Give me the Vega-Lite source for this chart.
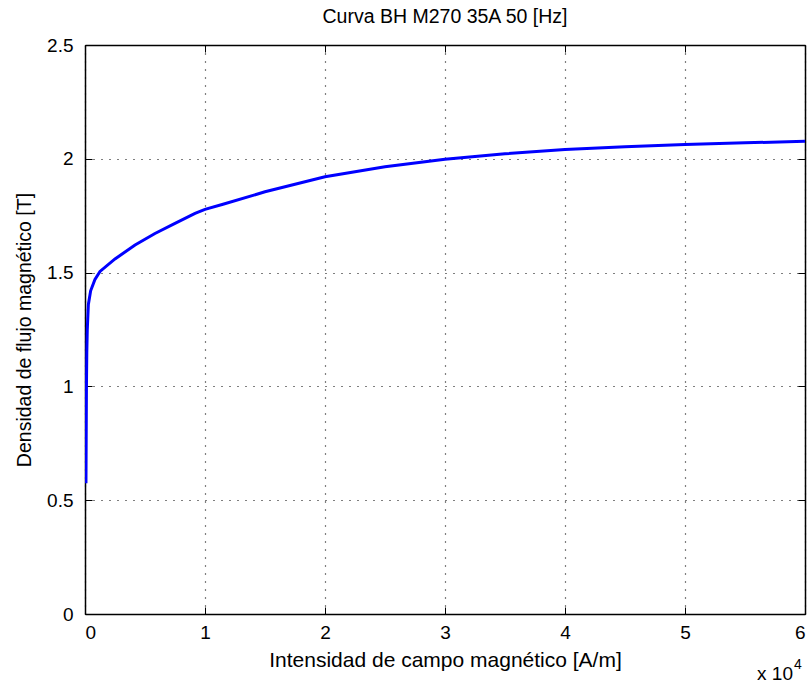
{
  "$schema": "https://vega.github.io/schema/vega-lite/v6.json",
  "autosize": "none",
  "width": 720,
  "height": 569,
  "padding": {"left": 85, "top": 45, "right": 5, "bottom": 70},
  "background": "white",
  "config": {
    "font": "Liberation Sans",
    "view": {"stroke": null},
    "axis": {"labelFont": "Liberation Sans", "titleFont": "Liberation Sans", "labelFontSize": 19, "titleFontSize": 21, "labelColor": "#000", "titleColor": "#000", "titleFontWeight": "normal", "domainColor": "#000", "tickColor": "#000", "domainWidth": 1.5, "tickWidth": 1}
  },
  "title": {"text": "Curva BH M270 35A 50 [Hz]", "fontSize": 19.5, "fontWeight": "normal", "font": "Liberation Sans", "color": "#000", "offset": 9},
  "resolve": {"axis": {"x": "independent", "y": "independent"}},
  "data": {"values": [
    {"H": 80, "B": 0.575},
    {"H": 120, "B": 1.0},
    {"H": 150, "B": 1.15},
    {"H": 190, "B": 1.25},
    {"H": 280, "B": 1.36},
    {"H": 470, "B": 1.42},
    {"H": 830, "B": 1.47},
    {"H": 1250, "B": 1.505},
    {"H": 2500, "B": 1.56},
    {"H": 4170, "B": 1.621},
    {"H": 5830, "B": 1.672},
    {"H": 7500, "B": 1.716},
    {"H": 9170, "B": 1.76},
    {"H": 10000, "B": 1.778},
    {"H": 11500, "B": 1.8},
    {"H": 15000, "B": 1.855},
    {"H": 20000, "B": 1.921},
    {"H": 25000, "B": 1.965},
    {"H": 30000, "B": 1.998},
    {"H": 35000, "B": 2.022},
    {"H": 40000, "B": 2.041},
    {"H": 45000, "B": 2.053},
    {"H": 50000, "B": 2.063},
    {"H": 55000, "B": 2.07},
    {"H": 60000, "B": 2.077}
  ]},
  "layer": [
    {
      "mark": {"type": "line", "color": "#0000ff", "strokeWidth": 3, "clip": true},
      "encoding": {
        "x": {"field": "H", "type": "quantitative", "scale": {"domain": [0, 60000], "nice": false, "zero": false},
          "axis": {"orient": "bottom", "values": [0, 10000, 20000, 30000, 40000, 50000, 60000], "labelExpr": "format(datum.value / 10000, 'd')", "title": "Intensidad de campo magnético [A/m]", "titlePadding": 7, "tickSize": -7, "labelPadding": 16, "grid": true, "gridDash": [1, 7], "gridColor": "#000", "gridWidth": 1.2}},
        "y": {"field": "B", "type": "quantitative", "scale": {"domain": [0, 2.5], "nice": false, "zero": false},
          "axis": {"orient": "left", "values": [0, 0.5, 1, 1.5, 2, 2.5], "format": ".2~f", "title": "Densidad de flujo magnético [T]", "titleFontSize": 19.5, "titlePadding": 12, "tickSize": -7, "labelPadding": 19, "grid": true, "gridDash": [1, 7], "gridColor": "#000", "gridWidth": 1.2}}
      }
    },
    {
      "mark": {"type": "point", "opacity": 0},
      "encoding": {
        "x": {"field": "H", "type": "quantitative", "axis": {"orient": "top", "values": [0, 10000, 20000, 30000, 40000, 50000, 60000], "labels": false, "title": null, "tickSize": -7, "grid": false}},
        "y": {"field": "B", "type": "quantitative", "axis": {"orient": "right", "values": [0, 0.5, 1, 1.5, 2, 2.5], "labels": false, "title": null, "tickSize": -7, "grid": false}}
      }
    },
    {
      "data": {"values": [{"label": "x 10", "H": 60000, "B": 0}]},
      "mark": {"type": "text", "fontSize": 19, "fontWeight": "normal", "font": "Liberation Sans", "align": "right", "baseline": "alphabetic", "dx": -12, "dy": 66, "color": "#000"},
      "encoding": {"text": {"field": "label"}, "x": {"field": "H", "type": "quantitative", "axis": null}, "y": {"field": "B", "type": "quantitative", "axis": null}}
    },
    {
      "data": {"values": [{"label": "4", "H": 60000, "B": 0}]},
      "mark": {"type": "text", "fontSize": 14, "fontWeight": "normal", "font": "Liberation Sans", "align": "left", "baseline": "alphabetic", "dx": -11, "dy": 55, "color": "#000"},
      "encoding": {"text": {"field": "label"}, "x": {"field": "H", "type": "quantitative", "axis": null}, "y": {"field": "B", "type": "quantitative", "axis": null}}
    }
  ]
}
